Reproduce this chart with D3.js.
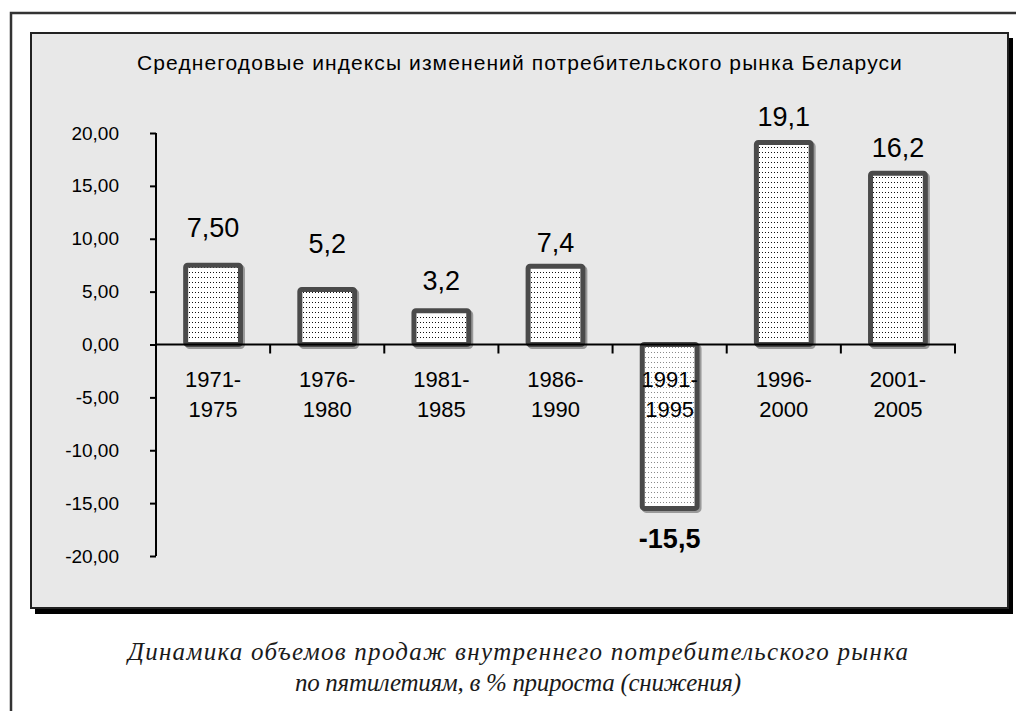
<!DOCTYPE html>
<html><head><meta charset="utf-8">
<script src="https://cdn.jsdelivr.net/npm/d3@7"></script>
<style>html,body{margin:0;padding:0;background:#fff;}svg{display:block;}</style>
</head><body>
<script>
const categories = [["1971-","1975"],["1976-","1980"],["1981-","1985"],["1986-","1990"],["1991-","1995"],["1996-","2000"],["2001-","2005"]];
const values = [7.5, 5.2, 3.2, 7.4, -15.5, 19.1, 16.2];
const valueLabels = ["7,50","5,2","3,2","7,4","-15,5","19,1","16,2"];
const yTicks = [20, 15, 10, 5, 0, -5, -10, -15, -20];
const title = "Среднегодовые индексы изменений потребительского рынка Беларуси";
const caption = ["Динамика объемов продаж внутреннего потребительского рынка", "по пятилетиям, в % прироста (снижения)"];
// baseline distance of each value label from its bar end (layout only)
const labelGap = [28, 37, 21, 14, 40, 17, 16];

const W = 1016, H = 711;
const svg = d3.select("body").append("svg").attr("width", W).attr("height", H);
const defs = svg.append("defs");
function dotPattern(id, color) {
  const p = defs.append("pattern").attr("id", id).attr("patternUnits","userSpaceOnUse").attr("width",3).attr("height",5);
  p.append("rect").attr("width",3).attr("height",5).attr("fill","#fff");
  p.append("rect").attr("x",0).attr("y",2).attr("width",1).attr("height",1).attr("fill",color);
}
dotPattern("dots", "#111");
dotPattern("dots2", "#8a8a8a");

// outer frame
svg.append("path").attr("d","M11,720 V13 H1030").attr("fill","none").attr("stroke","#333").attr("stroke-width",2.5);

// chart box shadow and box
svg.append("rect").attr("x",35).attr("y",38).attr("width",978).attr("height",576).attr("fill","#000");
svg.append("rect").attr("x",31).attr("y",33).attr("width",977).attr("height",575)
  .attr("fill","#e8e8e8").attr("stroke","#222").attr("stroke-width",2);

svg.append("text").attr("x",520).attr("y",70).attr("text-anchor","middle")
  .attr("font-family","Liberation Sans, Arial, sans-serif").attr("font-size",21).attr("letter-spacing",1.1)
  .attr("fill","#000").text(title);

const x = d3.scaleBand().domain(d3.range(values.length)).range([156, 955]).paddingInner(0.52).paddingOuter(0.26);
const y = d3.scaleLinear().domain([-20, 20]).range([556, 133]);

// y axis
const yAxis = svg.append("g").attr("transform","translate(156,0)")
  .call(d3.axisLeft(y).tickValues(yTicks).tickSize(6).tickPadding(31).tickFormat(d => d3.format(".2f")(d).replace(".",",").replace("−","-")));
yAxis.select(".domain").attr("stroke","#000").attr("stroke-width",2).attr("d","M0," + y(-20) + "V" + y(20));
yAxis.selectAll(".tick line").attr("stroke","#000").attr("stroke-width",2);
yAxis.selectAll("text").attr("font-family","Liberation Sans, Arial, sans-serif").attr("font-size",19).attr("fill","#000");

// bars
const g = svg.append("g");
g.selectAll("rect.shadow").data(values).join("rect").attr("class","shadow")
  .attr("x", (d,i) => x(i) + 2).attr("width", x.bandwidth())
  .attr("y", d => y(Math.max(0,d)) + 2).attr("height", d => Math.abs(y(d) - y(0)))
  .attr("rx",2).attr("fill","none").attr("stroke","#999").attr("stroke-width",5);
g.selectAll("rect.bar").data(values).join("rect").attr("class","bar")
  .attr("x", (d,i) => x(i)).attr("width", x.bandwidth())
  .attr("y", d => y(Math.max(0,d))).attr("height", d => Math.abs(y(d) - y(0)))
  .attr("rx",2)
  .attr("fill", d => d < 0 ? "url(#dots2)" : "url(#dots)")
  .attr("stroke","#4a4a4a").attr("stroke-width",5);

// x axis
const step = x.step();
const xAxisG = svg.append("g");
xAxisG.append("line").attr("x1",156).attr("x2",956).attr("y1",y(0)).attr("y2",y(0)).attr("stroke","#000").attr("stroke-width",2);
xAxisG.selectAll("line.t").data(d3.range(1, values.length + 1)).join("line").attr("class","t")
  .attr("x1", i => 156 + i*step).attr("x2", i => 156 + i*step)
  .attr("y1", y(0)).attr("y2", y(0) + 9).attr("stroke","#000").attr("stroke-width",2);

// category labels
const cl = svg.append("g").attr("font-family","Liberation Sans, Arial, sans-serif").attr("font-size",22).attr("fill","#000").attr("text-anchor","middle");
categories.forEach((c, i) => {
  const cx = x(i) + x.bandwidth()/2;
  const t = cl.append("text");
  t.append("tspan").attr("x", cx).attr("y", 387).text(c[0]);
  t.append("tspan").attr("x", cx).attr("y", 417).text(c[1]);
});

// value labels
svg.append("g").selectAll("text").data(values).join("text")
  .attr("x", (d,i) => x(i) + x.bandwidth()/2)
  .attr("y", (d,i) => d >= 0 ? y(d) - labelGap[i] : y(d) + labelGap[i])
  .attr("text-anchor","middle")
  .attr("font-family","Liberation Sans, Arial, sans-serif").attr("font-size",27)
  .attr("font-weight", d => d < 0 ? "bold" : "normal").attr("fill","#000")
  .text((d,i) => valueLabels[i]);

// caption
const cap = svg.append("g").attr("font-family","Liberation Serif, serif").attr("font-style","italic")
  .attr("font-size",25).attr("fill","#1a1a1a").attr("text-anchor","middle");
cap.append("text").attr("x",518).attr("y",660).attr("textLength",780).attr("lengthAdjust","spacing").text(caption[0]);
cap.append("text").attr("x",518).attr("y",691).attr("textLength",446).attr("lengthAdjust","spacing").text(caption[1]);
</script>
</body></html>
